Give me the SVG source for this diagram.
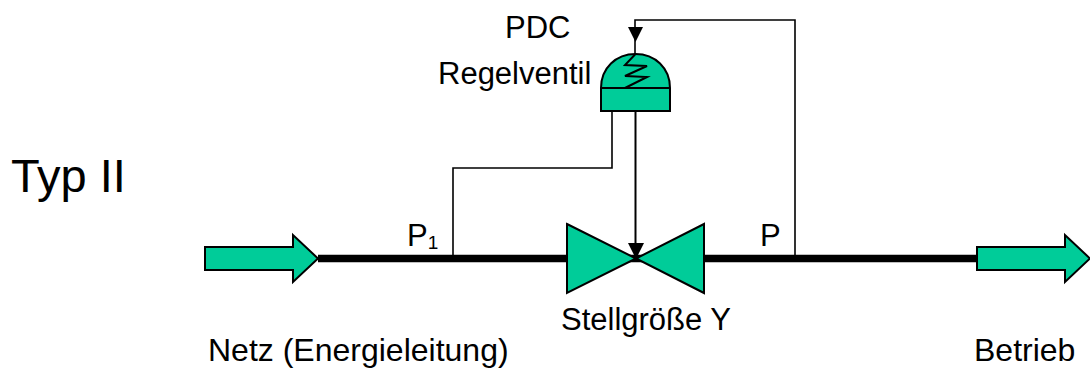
<svg xmlns="http://www.w3.org/2000/svg" width="1090" height="369" viewBox="0 0 1090 369">
<style>
.f{fill:#00cc99;stroke:#000;stroke-width:2;stroke-linejoin:miter}
.l{fill:none;stroke:#000;stroke-width:1.6}
.s{fill:none;stroke:#000;stroke-width:2}
.h{fill:#000;stroke:none}
text{font-family:"Liberation Sans",Arial,sans-serif;font-size:31px;fill:#000}
.b{font-size:32px}
</style>
<rect width="1090" height="369" fill="#fff"/>
<g id="connectors">
<path d="M318 258.500H977" fill="none" stroke="#000" stroke-width="7.500"/>
<path class="l" d="M453 255V168H612V111"/>
<path class="l" d="M795 255V20H635V54"/>
<path class="s" d="M635.500 111V245"/>
<polygon class="h" points="628,27 643,27 635.500,42"/>
<polygon class="h" points="628,243 644,243 636,259"/>
</g>
<g id="inlet"><polygon class="f" points="205,247 293,247 293,235 318,258.500 293,282 293,270 205,270"/></g>
<g id="outlet"><polygon class="f" points="977,247 1065,247 1065,235 1090,258.500 1065,282 1065,270 977,270"/></g>
<g id="valve"><polygon class="f" points="567,224 636,258.500 567,293"/><polygon class="f" points="704,224 636,258.500 704,293"/></g>
<g id="actuator">
<path class="f" d="M601 111V88C601 68 616 54 635.500 54S670 68 670 88V111Z"/>
<path class="s" d="M601 88H670"/>
<path class="s" d="M635.500 54L625 65L647 66L625 76L647 77L625 88"/>
</g>
<g id="labels">
<text x="505" y="38">PDC</text>
<text x="438" y="84">Regelventil</text>
<text x="11" y="192" style="font-size:47px">Typ II</text>
<text x="407" y="246">P<tspan dy="3" style="font-size:19px">1</tspan></text>
<text x="760" y="246">P</text>
<text x="561" y="330">Stellgröße Y</text>
<text class="b" x="208" y="361">Netz (Energieleitung)</text>
<text class="b" x="974" y="361">Betrieb</text>
</g>
</svg>
